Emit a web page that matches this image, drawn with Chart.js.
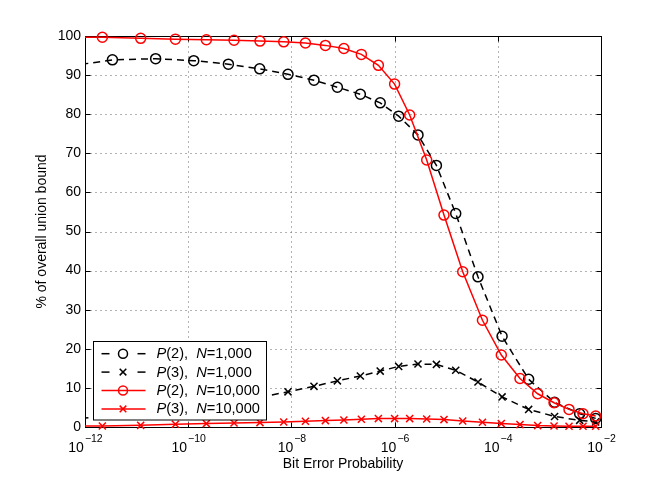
<!DOCTYPE html>
<html><head><meta charset="utf-8">
<script src="https://cdn.jsdelivr.net/npm/chart.js@4/dist/chart.umd.min.js"></script>
<style>html,body{margin:0;padding:0;background:#fff}#wrap{width:664px;height:481px}</style>
</head><body><div id="wrap"><canvas id="c" width="664" height="481"></canvas></div>
<script>
// ---- data ----
const seriesLabels = ['P(2),  N=1,000', 'P(3),  N=1,000', 'P(2),  N=10,000', 'P(3),  N=10,000'];
// bit error probabilities for N=1,000 curves (first point lies just left of the axis)
const xN1000 = [5.0e-13, 3.40e-12, 2.34e-11, 1.28e-10, 6.01e-10, 2.43e-9, 8.59e-9, 2.74e-8, 7.78e-8, 2.17e-7, 5.26e-7, 1.20e-6, 2.84e-6, 6.46e-6, 1.53e-5, 4.13e-5, 1.21e-4, 3.96e-4, 1.26e-3, 3.86e-3, 7.89e-3];
const p2N1000 = [92.3, 93.9, 94.2, 93.7, 92.8, 91.6, 90.2, 88.7, 86.9, 85.1, 82.9, 79.5, 74.7, 66.9, 54.6, 38.4, 23.2, 12.2, 6.3, 3.4, 2.2];
const p3N1000 = [2.0, 2.8, 3.8, 5.0, 6.3, 7.6, 9.0, 10.4, 11.8, 13.05, 14.3, 15.5, 16.1, 16.0, 14.5, 11.5, 7.7, 4.5, 2.7, 1.7, 1.3];
// bit error probabilities for N=10,000 curves
const xN10000 = [5.0e-13, 2.17e-12, 1.20e-11, 5.65e-11, 2.25e-10, 7.73e-10, 2.46e-9, 7.10e-9, 1.87e-8, 4.56e-8, 1.04e-7, 2.27e-7, 4.85e-7, 1.00e-6, 1.96e-6, 4.19e-6, 9.06e-6, 2.09e-5, 5.04e-5, 1.17e-4, 2.69e-4, 5.93e-4, 1.23e-3, 2.40e-3, 4.48e-3, 7.89e-3];
const p2N10000 = [99.75, 99.67, 99.4, 99.2, 99.05, 98.9, 98.7, 98.5, 98.2, 97.6, 96.8, 95.3, 92.5, 87.7, 79.8, 68.3, 54.2, 39.7, 27.3, 18.4, 12.4, 8.5, 6.2, 4.5, 3.4, 2.8];
const p3N10000 = [0.2, 0.26, 0.43, 0.69, 0.87, 1.02, 1.13, 1.28, 1.46, 1.64, 1.79, 1.97, 2.15, 2.15, 2.15, 2.05, 1.9, 1.54, 1.2, 0.87, 0.61, 0.36, 0.26, 0.18, 0.18, 0.18];
// ticks
const xTickValues = [1e-12, 1e-10, 1e-8, 1e-6, 1e-4, 1e-2];
const xTickBase = '10';
const xTickExponents = ['\u221212', '\u221210', '\u22128', '\u22126', '\u22124', '\u22122'];
const yTickValues = [0, 10, 20, 30, 40, 50, 60, 70, 80, 90, 100];
const xTitle = 'Bit Error Probability';
const yTitle = '% of overall union bound';

// ---- styles ----
const FONT = "'Liberation Sans', Arial, Helvetica, sans-serif";
const styles = [
  {color: '#000000', dash: [7, 5], marker: 'circle', radius: 5},
  {color: '#000000', dash: [7, 5], marker: 'crossRot', radius: 5},
  {color: '#ff0000', dash: [], marker: 'circle', radius: 5},
  {color: '#ff0000', dash: [], marker: 'crossRot', radius: 5}
];
const xs = [xN1000, xN1000, xN10000, xN10000];
const ys = [p2N1000, p3N1000, p2N10000, p3N10000];

const datasets = seriesLabels.map((lab, i) => ({
  label: lab,
  data: xs[i].map((xv, k) => ({x: xv, y: ys[i][k]})),
  borderColor: styles[i].color,
  borderWidth: 1.5,
  borderDash: styles[i].dash,
  pointStyle: styles[i].marker,
  pointRadius: styles[i].radius,
  pointBorderWidth: 1.5,
  pointBorderColor: styles[i].color,
  pointBackgroundColor: 'rgba(0,0,0,0)',
  fill: false,
  tension: 0,
  clip: {left: 0, top: 8, right: 8, bottom: 8},
  order: 4 - i
}));

function seg(ctx, x1, y1, x2, y2) { ctx.beginPath(); ctx.moveTo(x1, y1); ctx.lineTo(x2, y2); ctx.stroke(); }

const matlabPlugin = {
  id: 'matlabPlugin',
  beforeDatasetsDraw(chart) {
    const {ctx, chartArea: a, scales: {x, y}} = chart;
    const L = Math.round(a.left) + 0.5, R = Math.round(a.right) + 0.5;
    const T = Math.round(a.top) + 0.5, B = Math.round(a.bottom) + 0.5;
    ctx.save();
    // dotted grid
    ctx.strokeStyle = '#666'; ctx.lineWidth = 1; ctx.setLineDash([1, 4]);
    yTickValues.forEach(v => { const py = Math.round(y.getPixelForValue(v)) + 0.5; if (py > T + 1 && py < B - 1) seg(ctx, L, py, R, py); });
    xTickValues.forEach(v => { const px = Math.round(x.getPixelForValue(v)) + 0.5; if (px > L + 1 && px < R - 1) seg(ctx, px, T, px, B); });
    ctx.setLineDash([]);
    // inner ticks
    ctx.strokeStyle = '#000';
    yTickValues.forEach(v => { const py = Math.round(y.getPixelForValue(v)) + 0.5; seg(ctx, L, py, L + 5, py); seg(ctx, R - 5, py, R, py); });
    xTickValues.forEach(v => { const px = Math.round(x.getPixelForValue(v)) + 0.5; seg(ctx, px, B, px, B - 5); seg(ctx, px, T, px, T + 5); });
    // box
    ctx.strokeStyle = '#000'; ctx.lineWidth = 1;
    ctx.strokeRect(L, T, R - L, B - T);
    ctx.restore();
  },
  afterDraw(chart) {
    const {ctx, chartArea: a, scales: {x}} = chart;
    ctx.save();
    // x tick labels with superscripts
    ctx.fillStyle = '#000'; ctx.textBaseline = 'alphabetic';
    xTickValues.forEach((v, i) => {
      const px = x.getPixelForValue(v);
      ctx.font = '14px ' + FONT; const wb = ctx.measureText(xTickBase).width;
      ctx.font = '10.5px ' + FONT; const we = ctx.measureText(xTickExponents[i]).width;
      const x0 = px - (wb + we) / 2;
      ctx.font = '14px ' + FONT; ctx.textAlign = 'left';
      ctx.fillText(xTickBase, x0, a.bottom + 25.3);
      ctx.font = '10.5px ' + FONT;
      ctx.fillText(xTickExponents[i], x0 + wb + 1, a.bottom + 14.5);
    });
    // legend
    const bx = Math.round(a.left) + 8.5, by = Math.round(a.bottom) - 85.5;
    const bw = 173, bh = 78.5;
    ctx.fillStyle = '#fff'; ctx.fillRect(bx, by, bw, bh);
    ctx.strokeStyle = '#000'; ctx.lineWidth = 1; ctx.strokeRect(bx, by, bw, bh);
    seriesLabels.forEach((lab, i) => {
      const base = by + 16.7 + i * 18.4;
      const ly = base - 4.5;
      const st = styles[i];
      ctx.strokeStyle = st.color; ctx.lineWidth = 1.5;
      const x1 = bx + 8, x2 = bx + 52, xm = bx + 29.5;
      if (st.dash.length) { seg(ctx, x1, ly, x1 + 8, ly); seg(ctx, x2 - 8, ly, x2, ly); }
      else seg(ctx, x1, ly, x2, ly);
      // marker
      if (st.marker === 'circle') { ctx.beginPath(); ctx.arc(xm, ly, 4.5, 0, Math.PI * 2); ctx.stroke(); }
      else { const d = 3.3; seg(ctx, xm - d, ly - d, xm + d, ly + d); seg(ctx, xm - d, ly + d, xm + d, ly - d); }
      // text with italic P and N
      ctx.fillStyle = '#000'; ctx.textAlign = 'left';
      let tx = bx + 63;
      for (const ch of lab) {
        const it = (ch === 'P' || ch === 'N');
        ctx.font = (it ? 'italic ' : '') + '14.6px ' + FONT;
        ctx.fillText(ch, tx, base);
        tx += ctx.measureText(ch).width;
      }
    });
    ctx.restore();
  }
};

new Chart(document.getElementById('c'), {
  type: 'line',
  data: {datasets},
  options: {
    responsive: false,
    animation: false,
    devicePixelRatio: 1,
    layout: {padding: {top: 36, right: 63, bottom: 0, left: 0}},
    plugins: {legend: {display: false}, tooltip: {enabled: false}},
    scales: {
      x: {
        type: 'logarithmic', min: 1e-12, max: 1e-2,
        afterBuildTicks: s => { s.ticks = xTickValues.map(v => ({value: v})); },
        afterFit: s => { s.height = 54; },
        grid: {display: false}, border: {display: false},
        ticks: {color: 'rgba(0,0,0,0)', callback: (v) => '', autoSkip: false, maxRotation: 0},
        title: {display: true, text: xTitle, color: '#000', font: {family: FONT, size: 14}, padding: {top: 0, bottom: 8}}
      },
      y: {
        type: 'linear', min: 0, max: 100,
        afterBuildTicks: s => { s.ticks = yTickValues.map(v => ({value: v})); },
        afterFit: s => { s.width = 85; },
        grid: {display: false, drawTicks: false}, border: {display: false},
        ticks: {color: '#000', padding: 4, font: {family: FONT, size: 14}},
        title: {display: true, text: yTitle, color: '#000', font: {family: FONT, size: 14}, padding: {top: 33.5, bottom: 0}}
      }
    }
  },
  plugins: [matlabPlugin]
});
</script></body></html>
